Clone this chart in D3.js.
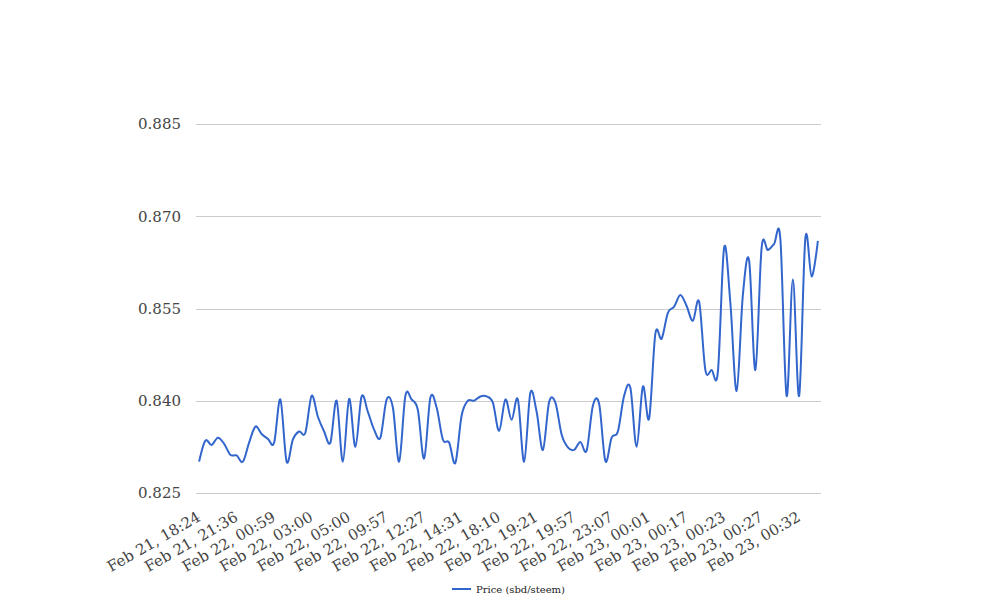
<!DOCTYPE html>
<html>
<head>
<meta charset="utf-8">
<script src="https://cdn.jsdelivr.net/npm/d3@7"></script>
<style>
  html, body { margin: 0; padding: 0; background: #fff; }
  svg { display: block; }
</style>
</head>
<body>
<svg id="chart" width="1008" height="616"></svg>
<script>
// ---- data ----
const seriesName = "Price (sbd/steem)";
const tickLabels = [
  "Feb 21, 18:24", "Feb 21, 21:36", "Feb 22, 00:59", "Feb 22, 03:00",
  "Feb 22, 05:00", "Feb 22, 09:57", "Feb 22, 12:27", "Feb 22, 14:31",
  "Feb 22, 18:10", "Feb 22, 19:21", "Feb 22, 19:57", "Feb 22, 23:07",
  "Feb 23, 00:01", "Feb 23, 00:17", "Feb 23, 00:23", "Feb 23, 00:27",
  "Feb 23, 00:32"
];
const labelEvery = 6; // one axis label per six samples
const prices = [
  0.8301, 0.8335, 0.8328, 0.8340, 0.8330, 0.8312, 0.8311, 0.8301, 0.8332, 0.8358,
  0.8346, 0.8338, 0.8332, 0.8402, 0.8301, 0.8337, 0.8350, 0.8348, 0.8408, 0.8374,
  0.8350, 0.8332, 0.8400, 0.8301, 0.8403, 0.8325, 0.8407, 0.8382, 0.8353, 0.8340,
  0.8402, 0.8389, 0.8301, 0.8408, 0.8402, 0.8385, 0.8306, 0.8405, 0.8389, 0.8337,
  0.8332, 0.8299, 0.8376, 0.8400, 0.8400, 0.8407, 0.8407, 0.8397, 0.8351, 0.8402,
  0.8369, 0.8402, 0.8301, 0.8413, 0.8382, 0.8320, 0.8398, 0.8397, 0.8345, 0.8324,
  0.8320, 0.8333, 0.8319, 0.8392, 0.8395, 0.8302, 0.8340, 0.8350, 0.8408, 0.8421,
  0.8325, 0.8423, 0.8371, 0.8509, 0.8501, 0.8543, 0.8553, 0.8572, 0.8554, 0.8530,
  0.8561, 0.8450, 0.8450, 0.8447, 0.8649, 0.8559, 0.8416, 0.8572, 0.8628, 0.8450,
  0.8649, 0.8645, 0.8655, 0.8663, 0.8408, 0.8597, 0.8408, 0.8665, 0.8602, 0.8660
];
const yTicks = [0.825, 0.840, 0.855, 0.870, 0.885];

// ---- layout ----
const area = { left: 196, right: 821, top: 124, bottom: 493 };
const svg = d3.select("#chart");
const fontFamily = "'DejaVu Serif', serif";

const x = d3.scalePoint()
  .domain(d3.range(prices.length))
  .range([area.left, area.right])
  .padding(0.5);

const y = d3.scaleLinear()
  .domain([yTicks[0], yTicks[yTicks.length - 1]])
  .range([area.bottom, area.top]);

// gridlines + y labels
const yAxis = d3.axisLeft(y)
  .tickValues(yTicks)
  .tickFormat(d3.format(".3f"))
  .tickSize(-(area.right - area.left))
  .tickPadding(15);

const yg = svg.append("g")
  .attr("transform", `translate(${area.left},0)`)
  .call(yAxis);
yg.select(".domain").remove();
yg.selectAll(".tick line").attr("stroke", "#cccccc").attr("stroke-width", 1)
  .attr("shape-rendering", "crispEdges");
yg.selectAll(".tick text")
  .attr("fill", "#444444")
  .attr("font-family", fontFamily)
  .attr("font-size", 15);

// x labels
const tickIdx = tickLabels.map((_, k) => k * labelEvery);
const xAxis = d3.axisBottom(x)
  .tickValues(tickIdx)
  .tickFormat((d) => tickLabels[d / labelEvery])
  .tickSize(0);

const xg = svg.append("g")
  .attr("transform", `translate(0,${area.bottom})`)
  .call(xAxis);
xg.select(".domain").remove();
xg.selectAll(".tick text")
  .attr("fill", "#444444")
  .attr("font-family", fontFamily)
  .attr("font-size", 15)
  .attr("text-anchor", "end")
  .attr("dy", 0)
  .attr("y", 0)
  .attr("transform", "translate(2,27) rotate(-30)");

// line
const line = d3.line()
  .x((d, i) => x(i))
  .y((d) => y(d))
  .curve(d3.curveCardinal.tension(0));

svg.append("path")
  .datum(prices)
  .attr("fill", "none")
  .attr("stroke", "#3366cc")
  .attr("stroke-width", 2)
  .attr("stroke-linejoin", "round")
  .attr("d", line);

// legend
const lg = svg.append("g").attr("transform", "translate(452,589)");
lg.append("line")
  .attr("x1", 0).attr("x2", 19).attr("y1", 0).attr("y2", 0)
  .attr("stroke", "#3366cc").attr("stroke-width", 2);
lg.append("text")
  .attr("x", 24).attr("y", 0).attr("dy", "0.35em")
  .attr("fill", "#222222")
  .attr("font-family", fontFamily)
  .attr("font-size", 10)
  .text(seriesName);
</script>
</body>
</html>
